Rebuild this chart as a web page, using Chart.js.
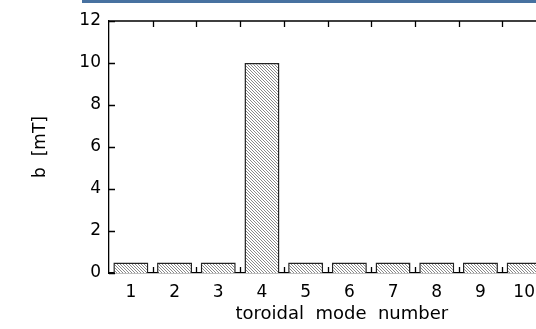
<!DOCTYPE html>
<html>
<head>
<meta charset="utf-8">
<script src="https://cdn.jsdelivr.net/npm/chart.js@4.4.0/dist/chart.umd.min.js"></script>
<style>
  html, body { margin: 0; padding: 0; background: #fff; overflow: hidden; }
  #wrap { position: relative; width: 536px; height: 329px; overflow: hidden; }
  #topbar { position: absolute; left: 82px; top: 0; width: 454px; height: 3px; background: #4771a0; }
  canvas { position: absolute; left: 0; top: 0; }
</style>
</head>
<body>
<div id="wrap">
  <canvas id="grafico" width="560" height="329"></canvas>
  <div id="topbar"></div>
</div>
<script>
// modos toroidais e amplitude do campo
const modos = ["1", "2", "3", "4", "5", "6", "7", "8", "9", "10"];
const amplitude = [0.5, 0.5, 0.5, 10, 0.5, 0.5, 0.5, 0.5, 0.5, 0.5];
const yTicks = [0, 2, 4, 6, 8, 10, 12];

const fonte = "'DejaVu Sans', sans-serif";

// padrao hachurado das barras
function hachura() {
  const c = document.createElement("canvas");
  c.width = 3; c.height = 3;
  const g = c.getContext("2d");
  g.fillStyle = "#fff";
  g.fillRect(0, 0, 3, 3);
  g.fillStyle = "#8a8a8a";
  for (let i = 0; i < 3; i++) g.fillRect(i, i, 1, 1);
  return g.createPattern(c, "repeat");
}

const ctx = document.getElementById("grafico").getContext("2d");

// marcas internas nos eixos + linha de cima
const marcas = {
  id: "marcas",
  afterDraw(chart) {
    const c = chart.ctx, a = chart.chartArea;
    const x = chart.scales.x, y = chart.scales.y;
    const len = 6;
    c.save();
    c.strokeStyle = "#000";
    c.lineWidth = 1.3;
    c.beginPath();
    c.moveTo(a.left, a.top); c.lineTo(a.right, a.top);
    // y
    yTicks.forEach(v => {
      const py = Math.round(y.getPixelForValue(v)) + 0.5;
      c.moveTo(a.left, py); c.lineTo(a.left + len, py);
    });
    // x: limites entre categorias
    const passo = x.getPixelForValue(1) - x.getPixelForValue(0);
    for (let i = 1; i < modos.length; i++) {
      const px = Math.round(x.getPixelForValue(i) - passo / 2) + 0.5;
      c.moveTo(px, a.bottom); c.lineTo(px, a.bottom - len);
      c.moveTo(px, a.top); c.lineTo(px, a.top + len);
    }
    c.stroke();
    c.restore();
  }
};

new Chart(ctx, {
  type: "bar",
  data: {
    labels: modos,
    datasets: [{
      data: amplitude,
      backgroundColor: hachura(),
      borderColor: "#222",
      borderWidth: 1.5,
      categoryPercentage: 1,
      barPercentage: 0.8
    }]
  },
  options: {
    responsive: false,
    animation: false,
    layout: { padding: { top: 21, right: 14, left: 0, bottom: 0 } },
    plugins: { legend: { display: false }, tooltip: { enabled: false } },
    scales: {
      x: {
        grid: { display: false, drawTicks: false },
        border: { display: true, color: "#000", width: 1.3 },
        ticks: { color: "#000", font: { family: fonte, size: 17 }, padding: 9, maxRotation: 0 },
        // espacos na frente empurram o titulo um pouco para a direita
        title: { display: true, text: "     toroidal  mode  number", color: "#000", font: { family: fonte, size: 18 }, padding: { top: 0 } },
        afterFit: s => { s.height = 56; }
      },
      y: {
        min: 0, max: 12,
        afterBuildTicks: s => { s.ticks = yTicks.map(v => ({ value: v })); },
        grid: { display: false, drawTicks: false },
        border: { display: true, color: "#000", width: 1.3 },
        ticks: { color: "#000", font: { family: fonte, size: 17 }, padding: 8 },
        title: { display: true, text: "b  [mT]", color: "#000", font: { family: fonte, size: 17 }, padding: { top: 30, bottom: 0 } },
        afterFit: s => { s.width = 109; }
      }
    }
  },
  plugins: [marcas]
});
</script>
</body>
</html>
